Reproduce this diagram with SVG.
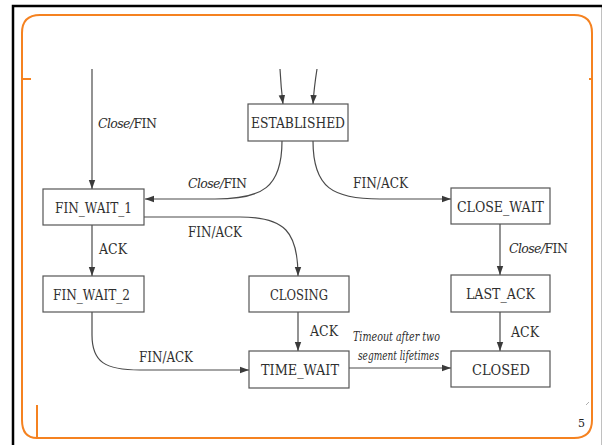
<svg xmlns="http://www.w3.org/2000/svg" width="602" height="445" viewBox="0 0 602 445">
<defs>
<marker id="ah" markerUnits="userSpaceOnUse" markerWidth="10" markerHeight="8" refX="9" refY="4" orient="auto">
<path d="M0,0.8 L9,4 L0,7.2 Z" fill="#3a3a3a"/>
</marker>
<style>
.box{fill:#fff;stroke:#555;stroke-width:1.2}
.t{font-size:14px;fill:#2e2e2e}
.cf{font-size:12.5px;letter-spacing:-0.6px;fill:#2e2e2e}
.e{fill:none;stroke:#4a4a4a;stroke-width:1.2;marker-end:url(#ah)}
.i{font-style:italic}
</style>
</defs>
<rect x="0" y="0" width="602" height="445" fill="#fff"/>
<rect x="13" y="6" width="590" height="445" fill="none" stroke="#000" stroke-width="2.5"/>
<g id="frame" fill="none" stroke="#f58220" stroke-width="2">
<path d="M22,420 L22,33 Q22,15 40,15 L574,15 Q592,15 592,33 L592,420 Q592,438 574,438 L37,438 Q22,438 22,420"/>
<line x1="37" y1="405" x2="37" y2="438"/>
<line x1="22" y1="79" x2="31" y2="79"/>
<line x1="589" y1="79" x2="592" y2="79"/>
</g>
<g id="connectors">
<path class="e" d="M92,69 L92,189"/>
<path class="e" d="M280,69 Q281,88 283,104"/>
<path class="e" d="M317,69 Q314,88 313,104"/>
<path class="e" d="M282,141 C282,188 262,199 215,199 L145,199"/>
<path class="e" d="M313,141 C313,188 333,199 380,199 L451,199"/>
<path class="e" d="M144,217 L240,217 C285,217 298,232 298,276"/>
<path class="e" d="M92,225 L92,276"/>
<path class="e" d="M500,224 L500,275"/>
<path class="e" d="M92,312 L92,335 C92,362 105,370 140,370 L249,370"/>
<path class="e" d="M298,312 L298,351"/>
<path class="e" d="M349,368 L451,368"/>
<path class="e" d="M500,312 L500,351"/>
</g>
<g font-family="DejaVu Serif, serif">
<g id="labels" class="t">
<text x="98" y="128" class="cf"><tspan class="i">Close/</tspan>FIN</text>
<text x="188" y="188" class="cf"><tspan class="i">Close/</tspan>FIN</text>
<text x="353" y="188" textLength="55" lengthAdjust="spacingAndGlyphs">FIN/ACK</text>
<text x="188" y="237" textLength="54" lengthAdjust="spacingAndGlyphs">FIN/ACK</text>
<text x="99" y="254" textLength="28" lengthAdjust="spacingAndGlyphs">ACK</text>
<text x="509" y="253" class="cf"><tspan class="i">Close/</tspan>FIN</text>
<text x="139" y="362" textLength="54" lengthAdjust="spacingAndGlyphs">FIN/ACK</text>
<text x="310" y="336" textLength="28" lengthAdjust="spacingAndGlyphs">ACK</text>
<text x="511" y="337" textLength="28" lengthAdjust="spacingAndGlyphs">ACK</text>
<text x="353" y="341" class="i" font-size="13" textLength="87" lengthAdjust="spacingAndGlyphs">Timeout after two</text>
<text x="358" y="360" class="i" font-size="13" textLength="81" lengthAdjust="spacingAndGlyphs">segment lifetimes</text>
</g>
<g id="ESTABLISHED"><rect class="box" x="248" y="104" width="100" height="37"/><text class="t" x="251" y="128" textLength="94" lengthAdjust="spacingAndGlyphs">ESTABLISHED</text></g>
<g id="FIN_WAIT_1"><rect class="box" x="43" y="189" width="101" height="36"/><text class="t" x="55" y="213" textLength="77" lengthAdjust="spacingAndGlyphs">FIN_WAIT_1</text></g>
<g id="CLOSE_WAIT"><rect class="box" x="451" y="188" width="99" height="36"/><text class="t" x="457" y="212" textLength="87" lengthAdjust="spacingAndGlyphs">CLOSE_WAIT</text></g>
<g id="FIN_WAIT_2"><rect class="box" x="43" y="276" width="101" height="36"/><text class="t" x="53" y="300" textLength="77" lengthAdjust="spacingAndGlyphs">FIN_WAIT_2</text></g>
<g id="CLOSING"><rect class="box" x="249" y="276" width="100" height="36"/><text class="t" x="270" y="300" textLength="58" lengthAdjust="spacingAndGlyphs">CLOSING</text></g>
<g id="LAST_ACK"><rect class="box" x="451" y="275" width="99" height="37"/><text class="t" x="466" y="299" textLength="69" lengthAdjust="spacingAndGlyphs">LAST_ACK</text></g>
<g id="TIME_WAIT"><rect class="box" x="249" y="351" width="100" height="37"/><text class="t" x="261" y="375" textLength="78" lengthAdjust="spacingAndGlyphs">TIME_WAIT</text></g>
<g id="CLOSED"><rect class="box" x="451" y="351" width="99" height="36"/><text class="t" x="472" y="375" textLength="58" lengthAdjust="spacingAndGlyphs">CLOSED</text></g>
<text x="578" y="427" font-size="11" fill="#222">5</text>
</g>
<line x1="586" y1="405" x2="589" y2="402" stroke="#999" stroke-width="0.8"/>
</svg>
